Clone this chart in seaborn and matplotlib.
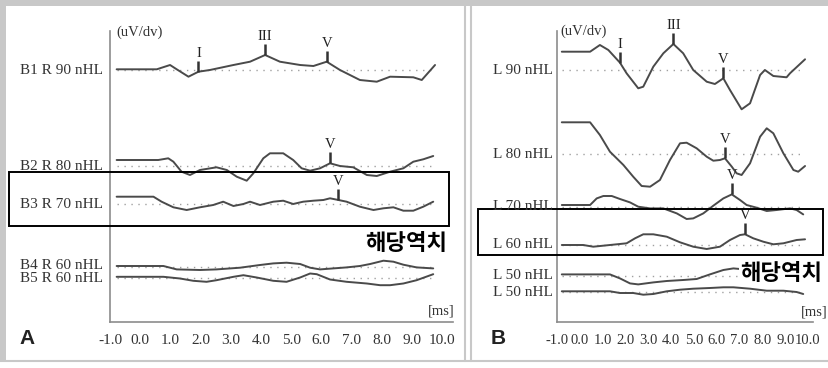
import numpy as np
import matplotlib
matplotlib.use("Agg")
import matplotlib.pyplot as plt
from matplotlib.patches import Rectangle
import seaborn as sns

# ---------------- data (ms, amplitude) ----------------
b1_t = [-0.78, 0.55, 0.99, 1.21, 1.60, 1.93, 2.31, 3.09, 3.64, 4.14, 4.63, 5.30, 5.74, 6.18, 6.62, 7.28, 7.84, 8.28, 9.05, 9.33, 9.77]
b1_a = [0.7, 0.7, 5.0, 0.7, -6.7, -1.7, 0.0, 5.0, 8.3, 15.0, 8.3, 5.0, 4.0, 8.3, 0.0, -10.0, -11.7, -6.7, -7.3, -10.0, 5.0]

b2_t = [-0.78, 0.60, 0.93, 1.10, 1.37, 1.65, 1.98, 2.53, 2.87, 3.20, 3.53, 3.75, 4.08, 4.30, 4.74, 5.07, 5.35, 5.63, 5.96, 6.29, 6.62, 7.06, 7.51, 7.84, 8.28, 8.72, 9.05, 9.38, 9.71]
b2_a = [6.0, 6.0, 7.7, 4.3, -5.7, -9.0, -4.0, -1.3, -4.0, -10.7, -14.7, -7.3, 7.7, 12.7, 12.7, 6.0, -2.3, -4.7, -2.3, 2.7, 0.0, -1.3, -9.0, -10.0, -5.7, -2.3, 4.3, 6.7, 10.0]

b3_t = [-0.78, 0.44, 0.71, 1.10, 1.54, 1.98, 2.42, 2.75, 3.09, 3.42, 3.64, 3.97, 4.41, 4.74, 5.07, 5.40, 5.74, 6.07, 6.29, 6.57, 6.84, 7.28, 7.73, 8.06, 8.39, 8.72, 9.05, 9.38, 9.71]
b3_a = [7.3, 7.3, 2.3, -3.3, -6.0, -3.3, -1.0, 2.3, -2.0, 0.0, 2.3, -1.0, 2.3, 3.3, 0.0, 2.3, 3.3, 4.0, 5.7, 4.0, 2.3, -2.7, -6.0, -4.3, -3.3, -6.7, -6.7, -2.7, 2.3]

b4_t = [-0.78, 0.77, 1.21, 1.98, 2.53, 3.31, 3.97, 4.41, 4.85, 5.30, 5.63, 5.96, 6.40, 6.84, 7.28, 7.62, 8.06, 8.39, 8.72, 9.16, 9.71]
b4_a = [0.7, 0.7, -2.7, -3.3, -2.7, -1.0, 1.7, 3.3, 4.0, 2.7, -1.0, -2.7, -1.7, -0.7, 0.7, 2.7, 6.0, 5.0, 2.0, -0.7, -1.7]

b5_t = [-0.78, 0.77, 1.32, 1.76, 2.20, 2.53, 3.09, 3.42, 3.86, 4.41, 4.85, 5.30, 5.63, 5.85, 6.29, 6.84, 7.51, 7.95, 8.28, 8.72, 9.16, 9.71]
b5_a = [0.7, 0.7, -1.0, -3.3, -4.3, -2.7, 0.7, 2.3, 0.0, -3.3, -4.3, 0.0, 4.0, 3.3, -2.0, -4.3, -6.0, -7.7, -7.7, -6.0, -2.7, 3.3]

l90_t = [-0.79, 0.45, 0.88, 1.25, 1.76, 2.05, 2.56, 2.78, 3.22, 3.66, 4.10, 4.53, 4.97, 5.56, 5.92, 6.29, 6.58, 7.09, 7.46, 7.90, 8.11, 8.48, 9.06, 9.21, 9.87]
l90_a = [18.3, 18.3, 25.0, 20.0, 7.3, -3.3, -18.3, -16.7, 3.3, 16.7, 26.0, 16.7, 0.0, -11.7, -14.0, -8.3, -20.0, -39.3, -33.3, -5.0, 0.0, -6.0, -7.3, -3.3, 10.7]

l80_t = [-0.79, 0.45, 0.88, 1.32, 1.91, 2.34, 2.71, 3.08, 3.51, 3.95, 4.39, 4.68, 5.12, 5.56, 5.85, 6.14, 6.36, 6.66, 6.87, 7.09, 7.46, 7.90, 8.19, 8.48, 8.92, 9.36, 9.57, 9.87]
l80_a = [31.7, 31.7, 19.0, 2.3, -11.0, -22.7, -32.0, -32.7, -26.0, -6.0, 10.7, 11.3, 5.7, -2.7, -6.7, -6.0, -4.3, -12.7, -19.3, -21.0, -9.3, 17.3, 25.7, 20.7, 0.7, -16.0, -17.7, -12.0]

l70_t = [-0.79, 0.45, 0.74, 1.03, 1.40, 1.76, 2.20, 2.56, 3.08, 3.66, 4.25, 4.68, 4.97, 5.41, 5.85, 6.29, 6.66, 7.02, 7.31, 7.75, 8.19, 8.63, 9.21, 9.50, 9.79]
l70_a = [1.7, 1.7, 8.3, 10.7, 10.7, 7.7, 4.3, 0.0, -1.7, -1.7, -6.7, -12.3, -11.7, -6.7, 1.0, 8.3, 12.3, 6.7, 1.7, -1.0, -4.3, -3.3, -1.7, -3.3, -7.7]

l60_t = [-0.79, 0.15, 0.59, 1.32, 2.05, 2.42, 2.78, 3.22, 3.81, 4.39, 4.97, 5.56, 6.14, 6.58, 7.02, 7.24, 7.60, 8.04, 8.48, 8.92, 9.50, 9.87]
l60_a = [0.0, 0.0, -1.7, 0.0, 1.7, 6.7, 10.7, 10.7, 8.3, 2.7, -1.7, -4.0, -1.7, 5.0, 10.0, 10.7, 6.7, 3.3, 0.7, 1.7, 5.0, 5.7]

l50a_t = [-0.79, 1.32, 1.76, 2.20, 2.56, 3.22, 3.81, 4.53, 5.12, 5.70, 6.29, 6.73, 7.02, 7.46, 8.04, 8.92, 9.79]
l50a_a = [1.3, 1.3, -2.7, -7.7, -8.7, -6.7, -5.3, -4.3, -3.3, 1.3, 5.7, 7.3, 6.7, 4.7, 3.3, 3.3, 3.3]

l50b_t = [-0.79, 1.32, 1.76, 2.34, 2.78, 3.22, 3.81, 4.39, 4.97, 5.70, 6.29, 6.73, 7.46, 8.19, 8.92, 9.50, 9.79]
l50b_a = [0.7, 0.7, -1.0, -1.0, -2.7, -2.0, 0.7, 2.3, 3.3, 4.0, 4.7, 4.7, 3.3, 1.3, 1.3, 0.0, -2.0]

labels_a = ["B1 R 90 nHL", "B2 R 80 nHL", "B3 R 70 nHL", "B4 R 60 nHL", "B5 R 60 nHL"]
labels_b = ["L 90 nHL", "L 80 nHL", "L 70 nHL", "L 60 nHL", "L 50 nHL", "L 50 nHL"]

# peaks: (trace index, latency ms, wave label)
peaks_a = [(0, 1.93, "I"), (0, 4.14, "III"), (0, 6.18, "V"), (1, 6.29, "V"), (2, 6.57, "V")]
peaks_b = [(0, 1.76, "I"), (0, 4.10, "III"), (0, 6.29, "V"), (1, 6.36, "V"), (2, 6.66, "V"), (3, 7.24, "V")]

xticks = [-1.0, 0.0, 1.0, 2.0, 3.0, 4.0, 5.0, 6.0, 7.0, 8.0, 9.0, 10.0]
threshold_text = "해당역치"

# ---------------- layout ----------------
W, H = 829, 368
sns.set_style("white")
plt.rcParams["font.family"] = ["Liberation Serif", "DejaVu Serif"]

fig = plt.figure(figsize=(W / 100, H / 100), dpi=100)
fig.patch.set_facecolor("white")

def px_axes(l, t, r, b, z):
    return fig.add_axes([l / W, 1 - b / H, (r - l) / W, (b - t) / H], zorder=z)

bg = px_axes(0, 0, W, H, 0)
bg.set_xlim(0, W); bg.set_ylim(H, 0); bg.axis("off")
gray = "#c8c8c8"
bg.add_patch(Rectangle((0, 0), W, 6, color=gray, lw=0))
bg.add_patch(Rectangle((0, 0), 6, 361, color=gray, lw=0))
bg.plot([465, 465], [6, 361], color=gray, lw=1.5)
bg.plot([471, 471], [6, 361], color=gray, lw=1.5)
bg.plot([0, W], [360.5, 360.5], color=gray, lw=1.5)

TRACE = "#4a4a4a"
AXC = "#8c8c8c"

def panel(left_px, right_ms, px_per_ms, traces, bases, peaks, fs):
    right_px = left_px + (right_ms + 1.0) * px_per_ms
    ax = px_axes(left_px, 31, right_px, 322, 1)
    ax.patch.set_alpha(0)
    for (t, a), base in zip(traces, bases):
        t = np.asarray(t); a = np.asarray(a)
        ax.plot([t[0], t[-1]], [base, base], ls=(0, (1, 4)), color="#a0a0a0", lw=1.0)
        sns.lineplot(x=t, y=base - a, ax=ax, color=TRACE, lw=1.4, sort=False, estimator=None)
    for idx, tp, lab in peaks:
        t, a = traces[idx]
        yv = bases[idx] - np.interp(tp, t, a)
        ax.plot([tp, tp], [yv, yv - 11], color="#333333", lw=1.8, solid_capstyle="butt")
        ax.text(tp, yv - 12, lab, ha="center", va="bottom", fontsize=10.5, color="#222222")
    ax.set_xlim(-1.0, right_ms)
    ax.set_ylim(322, 31)
    ax.set_yticks([])
    ax.set_xticks(xticks)
    ax.set_xticklabels([f"{v:.1f}" for v in xticks], fontsize=fs, color="#333333")
    ax.tick_params(axis="x", direction="inout", length=5, width=1, color=AXC, pad=6)
    for s in ["top", "right"]:
        ax.spines[s].set_visible(False)
    for s in ["left", "bottom"]:
        ax.spines[s].set_color(AXC)
        ax.spines[s].set_linewidth(1.2)
    ax.set_xlabel(""); ax.set_ylabel("")
    return ax

traces_a = [(b1_t, b1_a), (b2_t, b2_a), (b3_t, b3_a), (b4_t, b4_a), (b5_t, b5_a)]
bases_a = [70, 166, 204, 266.7, 277.5]
traces_b = [(l90_t, l90_a), (l80_t, l80_a), (l70_t, l70_a), (l60_t, l60_a), (l50a_t, l50a_a), (l50b_t, l50b_a)]
bases_b = [70, 154, 206.7, 245, 275.7, 292]

panel(110, 10.35, 30.18, traces_a, bases_a, peaks_a, 11)
panel(557, 10.2, 22.82, traces_b, bases_b, peaks_b, 10.5)

ov = px_axes(0, 0, W, H, 3)
ov.set_xlim(0, W); ov.set_ylim(H, 0); ov.axis("off"); ov.patch.set_visible(False)

label_nudge_a = [0, 0, 0, -1.0, 1.0]
for lab, base, dn in zip(labels_a, bases_a, label_nudge_a):
    ov.text(103, base + dn, lab, ha="right", va="center", fontsize=11, color="#333333")
for lab, base in zip(labels_b, bases_b):
    ov.text(553, base, lab, ha="right", va="center", fontsize=11, color="#333333")

ov.text(116, 32, "(uV/dv)", ha="left", va="center", fontsize=10.5, color="#333333")
ov.text(560, 31, "(uV/dv)", ha="left", va="center", fontsize=10.5, color="#333333")
ov.text(455, 311, "[ms]", ha="right", va="center", fontsize=10.5, color="#333333")
ov.text(828, 312, "[ms]", ha="right", va="center", fontsize=10.5, color="#333333")

ov.add_patch(Rectangle((9, 172), 440, 54, fill=False, ec="black", lw=1.4))
ov.add_patch(Rectangle((478, 209), 345, 46, fill=False, ec="black", lw=1.4))

kfont = ["Noto Sans CJK KR", "DejaVu Sans"]
ov.text(406, 243, threshold_text, ha="center", va="center", fontsize=16,
        fontweight="heavy", family=kfont, color="black")
ov.text(781, 274, threshold_text, ha="center", va="center", fontsize=16,
        fontweight="heavy", family=kfont, color="black",
        bbox=dict(facecolor="white", edgecolor="none", pad=0.5))

ov.text(27, 339, "A", ha="center", va="center", fontsize=15, fontweight="bold",
        family=["Liberation Sans", "DejaVu Sans"], color="#222222")
ov.text(498, 339, "B", ha="center", va="center", fontsize=15, fontweight="bold",
        family=["Liberation Sans", "DejaVu Sans"], color="#222222")

fig.savefig("out.png", dpi=100, facecolor="white")
